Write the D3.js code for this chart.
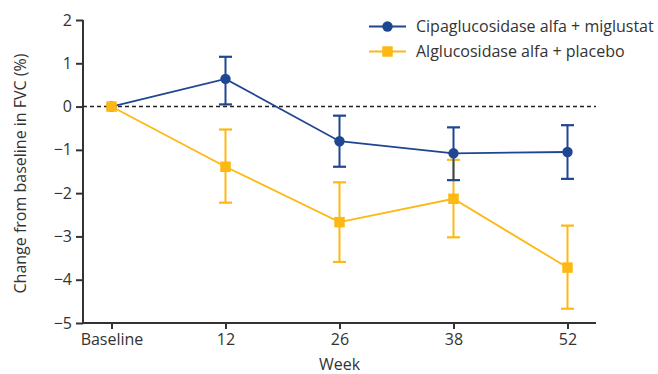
<!DOCTYPE html>
<html lang="en">
<head>
<meta charset="utf-8">
<script src="https://d3js.org/d3.v7.min.js"></script>
<style>
  body { margin: 0; background: #fff; }
  text { font-family: "Open Sans", sans-serif; fill: #333; }
</style>
</head>
<body>
<svg width="658" height="374"></svg>
<script>
// data
var weeks = ["Baseline", "12", "26", "38", "52"];
var cipaMean = [0, 0.64, -0.80, -1.08, -1.05];
var cipaHigh = [null, 1.15, -0.21, -0.48, -0.43];
var cipaLow = [null, 0.05, -1.39, -1.70, -1.67];
var algMean = [0, -1.39, -2.67, -2.13, -3.72];
var algHigh = [null, -0.53, -1.75, -1.23, -2.75];
var algLow = [null, -2.22, -3.59, -3.02, -4.67];
var yTicks = [2, 1, 0, -1, -2, -3, -4, -5];

var series = [
    {name: "Alglucosidase alfa + placebo", color: "#fdb813", shape: "square", mean: algMean, hi: algHigh, lo: algLow},
    {name: "Cipaglucosidase alfa + miglustat", color: "#1f4690", shape: "circle", mean: cipaMean, hi: cipaHigh, lo: cipaLow}
];

var svg = d3.select("svg");
var plotL = 83, plotR = 596, plotT = 20, plotB = 323;
var fs = "16px";

var x = d3.scalePoint().domain(weeks).range([plotL, plotR]).padding(0.25);
var y = d3.scaleLinear().domain([-5, 2]).range([plotB, plotT]);

function sym(s) {
    return d3.symbol().type(s.shape === "circle" ? d3.symbolCircle : d3.symbolSquare)
        .size(s.shape === "circle" ? 85 : 110)();
}

// axes
var yAxis = svg.append("g")
    .attr("transform", "translate(" + plotL + ",0)")
    .call(d3.axisLeft(y).tickValues(yTicks).tickSize(7).tickPadding(4)
        .tickFormat(function (d) { return d < 0 ? "\u2212" + Math.abs(d) : d; }));
var xAxis = svg.append("g")
    .attr("transform", "translate(0," + plotB + ")")
    .call(d3.axisBottom(x).tickSize(6).tickPadding(5).tickSizeOuter(0));
[xAxis, yAxis].forEach(function (g) {
    g.select(".domain").attr("stroke", "#333").attr("stroke-width", 2);
    g.selectAll(".tick line").attr("stroke", "#333").attr("stroke-width", 2);
    g.selectAll(".tick text").style("font-size", fs).style("font-family", "Open Sans").attr("fill", "#333");
});
yAxis.select(".domain").attr("d", "M0," + plotB + "V" + plotT);
xAxis.select(".domain").attr("d", "M" + plotL + ",0H" + plotR);

// zero reference
svg.append("line")
    .attr("x1", plotL).attr("x2", plotR)
    .attr("y1", y(0)).attr("y2", y(0))
    .attr("stroke", "#222").attr("stroke-width", 1.5)
    .attr("stroke-dasharray", "4,3");

// axis titles
svg.append("text")
    .attr("transform", "translate(26," + ((plotT + plotB) / 2 + 2) + ") rotate(-90)")
    .attr("text-anchor", "middle")
    .style("font-size", fs)
    .text("Change from baseline in FVC (%)");
svg.append("text")
    .attr("x", x("26")).attr("y", 370)
    .attr("text-anchor", "middle")
    .style("font-size", fs)
    .text("Week");

// lines and error bars
var line = d3.line()
    .x(function (d, i) { return x(weeks[i]); })
    .y(function (d) { return y(d); });
series.forEach(function (s) {
    var g = svg.append("g");
    g.append("path")
        .attr("d", line(s.mean))
        .attr("fill", "none")
        .attr("stroke", s.color)
        .attr("stroke-width", 1.8);

    weeks.forEach(function (w, i) {
        if (s.hi[i] === null) return;
        var cx = x(w);
        g.append("line").attr("x1", cx).attr("x2", cx)
            .attr("y1", y(s.hi[i])).attr("y2", y(s.lo[i]))
            .attr("stroke", s.color).attr("stroke-width", 2);
        [s.hi[i], s.lo[i]].forEach(function (v) {
            g.append("line").attr("x1", cx - 6.5).attr("x2", cx + 6.5)
                .attr("y1", y(v)).attr("y2", y(v))
                .attr("stroke", s.color).attr("stroke-width", 2.2);
        });
    });
});

// markers (placebo squares on top, as at baseline)
[series[1], series[0]].forEach(function (s) {
    svg.append("g").selectAll("path").data(s.mean).enter()
        .append("path")
        .attr("transform", function (d, i) { return "translate(" + x(weeks[i]) + "," + y(d) + ")"; })
        .attr("d", sym(s))
        .attr("fill", s.color);
});

// legend
[series[1], series[0]].forEach(function (s, i) {
    var ly = 26.5 + i * 25;
    svg.append("line").attr("x1", 369).attr("x2", 406).attr("y1", ly).attr("y2", ly)
        .attr("stroke", s.color).attr("stroke-width", 2);
    svg.append("path")
        .attr("transform", "translate(387.5," + ly + ")")
        .attr("d", sym(s))
        .attr("fill", s.color);
    svg.append("text")
        .attr("x", 416).attr("y", ly)
        .attr("dy", "0.35em")
        .style("font-size", fs)
        .text(s.name);
});
</script>
</body>
</html>
